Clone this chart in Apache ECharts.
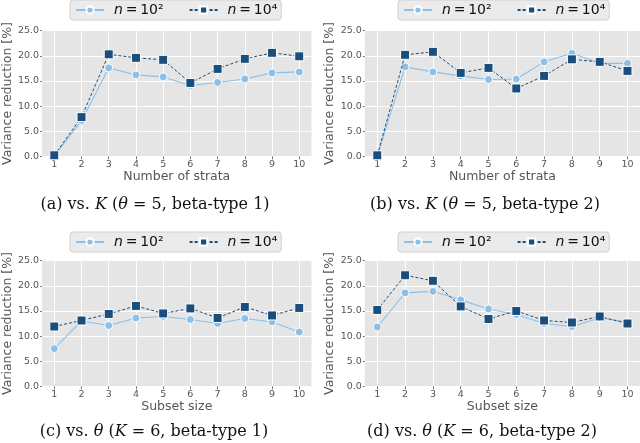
<!DOCTYPE html>
<html>
<head>
<meta charset="utf-8">
<script src="https://cdn.jsdelivr.net/npm/echarts@6/dist/echarts.min.js"></script>
<style>html,body{margin:0;padding:0;background:#fff}#c{width:640px;height:443px}</style>
</head>
<body>
<div id="c"></div>
<script>
// ---- data ----
const xTicks = [1, 2, 3, 4, 5, 6, 7, 8, 9, 10];
const yTicks = [0, 5, 10, 15, 20, 25];
const seriesNames = ['n2', 'n4'];

const a_n2 = [0.1, 7.1, 17.6, 16.2, 15.8, 14.1, 14.7, 15.4, 16.6, 16.8];
const a_n4 = [0.2, 7.8, 20.3, 19.6, 19.2, 14.6, 17.4, 19.4, 20.6, 19.9];
const b_n2 = [0.1, 17.8, 16.8, 16.0, 15.3, 15.4, 18.8, 20.5, 18.5, 18.5];
const b_n4 = [0.2, 20.2, 20.8, 16.6, 17.6, 13.5, 16.0, 19.3, 18.8, 17.0];
const c_n2 = [7.5, 13.0, 12.1, 13.6, 13.9, 13.3, 12.5, 13.5, 12.8, 10.8];
const c_n4 = [11.9, 13.1, 14.4, 16.0, 14.5, 15.5, 13.6, 15.8, 14.1, 15.6];
const d_n2 = [11.8, 18.6, 18.9, 17.2, 15.4, 14.3, 12.5, 11.9, 13.6, 12.8];
const d_n4 = [15.2, 22.1, 21.0, 15.9, 13.4, 15.0, 13.1, 12.7, 13.9, 12.5];

const xNames = ['Number of strata', 'Number of strata', 'Subset size', 'Subset size'];
const yName = 'Variance reduction [%]';
const captions = [
  ['(a) vs. ', 'K', ' (', 'θ', ' = 5, beta-type 1)'],
  ['(b) vs. ', 'K', ' (', 'θ', ' = 5, beta-type 2)'],
  ['(c) vs. ', 'θ', ' (', 'K', ' = 6, beta-type 1)'],
  ['(d) vs. ', 'θ', ' (', 'K', ' = 6, beta-type 2)']
];

// ---- layout ----
const panels = [
  {left: 35.8, top: 30.7, width: 275.7, height: 125.6, legL: 70, legT: 0, capX: 155, capY: 205, n2: a_n2, n4: a_n4},
  {left: 364.8, top: 30.7, width: 275.7, height: 125.6, legL: 398, legT: 0, capX: 485, capY: 205, n2: b_n2, n4: b_n4},
  {left: 35.8, top: 260.7, width: 275.7, height: 125.6, legL: 70, legT: 232, capX: 154, capY: 432, n2: c_n2, n4: c_n4},
  {left: 364.8, top: 260.7, width: 275.7, height: 125.6, legL: 398, legT: 232, capX: 482, capY: 432, n2: d_n2, n4: d_n4}
];

const LIGHT = '#8cc0e8';
const DARK = '#1a4e7c';
const SANS = 'DejaVu Sans';
const TS = '\u2009';

const grids = [], xAxes = [], yAxes = [], series = [], legends = [], graphics = [];
panels.forEach((p, i) => {
  grids.push({left: p.left, top: p.top, width: p.width, height: p.height, show: true,
    backgroundColor: '#e5e5e5', borderWidth: 0, containLabel: false});
  xAxes.push({type: 'value', gridIndex: i, min: 0.55, max: 10.45,
    name: xNames[i], nameLocation: 'middle', nameGap: 13,
    nameTextStyle: {fontFamily: SANS, fontSize: 12.5, color: '#555'},
    axisLine: {show: false},
    axisTick: {show: true, length: 3, lineStyle: {color: '#777'}, customValues: xTicks},
    axisLabel: {customValues: xTicks, fontFamily: SANS, fontSize: 9.5, color: '#555', margin: 3},
    splitLine: {show: true, lineStyle: {color: '#fff', width: 1}}
  });
  yAxes.push({type: 'value', gridIndex: i, min: 0, max: 25, interval: 5,
    name: yName, nameLocation: 'middle', nameGap: 24,
    nameTextStyle: {fontFamily: SANS, fontSize: 12.5, color: '#555'},
    axisLine: {show: false},
    axisTick: {show: true, length: 2, lineStyle: {color: '#777'}},
    axisLabel: {fontFamily: SANS, fontSize: 9.5, color: '#555', margin: 3,
      formatter: v => v.toFixed(1)},
    splitLine: {show: true, lineStyle: {color: '#fff', width: 1}}
  });
  series.push({name: 'n2', type: 'line', xAxisIndex: i, yAxisIndex: i,
    data: xTicks.map((x, k) => [x, p.n2[k]]),
    symbol: 'circle', symbolSize: 8, color: LIGHT,
    lineStyle: {color: LIGHT, width: 1.1, type: 'solid'},
    itemStyle: {color: LIGHT, borderColor: '#fff', borderWidth: 1},
    clip: false, z: 3});
  series.push({name: 'n4', type: 'line', xAxisIndex: i, yAxisIndex: i,
    data: xTicks.map((x, k) => [x, p.n4[k]]),
    symbol: 'rect', symbolSize: 9, color: DARK,
    lineStyle: {color: DARK, width: 1, type: [3, 2]},
    itemStyle: {color: DARK, borderColor: '#fff', borderWidth: 1},
    clip: false, z: 4});
  legends.push({left: p.legL, top: p.legT, data: seriesNames, orient: 'horizontal',
    backgroundColor: '#ebebeb', borderColor: '#d0d0d0', borderWidth: 1, borderRadius: 3,
    padding: [3, 4, 3, 5], itemGap: 25, itemWidth: 28, itemHeight: 9,
    formatter: n => n === 'n2' ? '{g|}{i|n}' + TS + '=' + TS + '10²' : '{g|}{i|n}' + TS + '=' + TS + '10⁴',
    textStyle: {fontFamily: SANS, fontSize: 14, color: '#111',
      rich: {g: {width: 5},
             i: {fontFamily: SANS, fontStyle: 'italic', fontSize: 14, color: '#111'}}}
  });
  const c = captions[i];
  graphics.push({type: 'text', x: p.capX, y: p.capY,
    style: {text: '{r|' + c[0] + '}{it|' + c[1] + '}{r|' + c[2] + '}{it|' + c[3] + '}{r|' + c[4] + '}',
      align: 'center', verticalAlign: 'middle',
      rich: {r: {fontFamily: 'DejaVu Serif', fontSize: 16, fill: '#111'},
             it: {fontFamily: 'DejaVu Serif', fontStyle: 'italic', fontSize: 16, fill: '#111'}}}});
});

const chart = echarts.init(document.getElementById('c'), null, {renderer: 'canvas'});
chart.setOption({
  animation: false,
  backgroundColor: '#fff',
  grid: grids, xAxis: xAxes, yAxis: yAxes, series: series, legend: legends,
  graphic: graphics
});
</script>
</body>
</html>
